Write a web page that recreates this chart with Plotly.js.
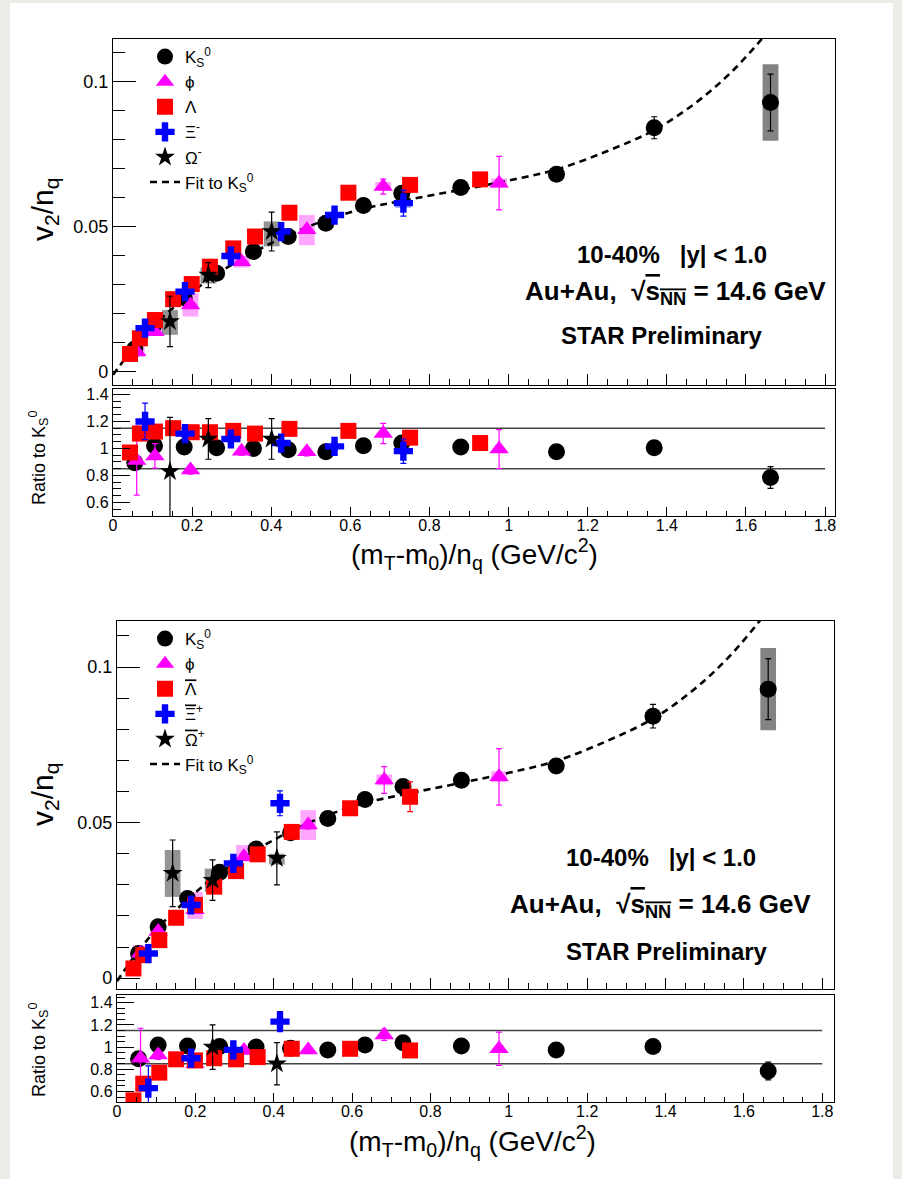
<!DOCTYPE html>
<html>
<head>
<meta charset="utf-8">
<script src="https://cdn.plot.ly/plotly-3.0.1.min.js"></script>
<style>html,body{margin:0;padding:0;background:#eeece6;}#chart{width:902px;height:1179px;}</style>
</head>
<body>
<div id="chart"></div>
<script>
// ---------------- DATA ----------------
// Fit to K0s
const fitX = [0.0, 0.055, 0.105, 0.18, 0.262, 0.355, 0.443, 0.538, 0.633, 0.730, 0.879, 1.0, 1.121, 1.25, 1.368, 1.47, 1.56, 1.64, 1.70];
const fitV = [-0.001, 0.0088, 0.0162, 0.0253, 0.0337, 0.0412, 0.0472, 0.0524, 0.0563, 0.0590, 0.0628, 0.0660, 0.0698, 0.0762, 0.0834, 0.0925, 0.1030, 0.1148, 0.1250];
const refX = [0, 1.8];
const refLevels = [0.85, 1.15];

// K0s (same in both panels)
const k0X = [0.055, 0.105, 0.18, 0.262, 0.355, 0.443, 0.538, 0.633, 0.730, 0.879, 1.121, 1.368, 1.662];
const k0V = [0.0079, 0.0165, 0.0256, 0.0340, 0.0415, 0.0467, 0.0513, 0.0574, 0.0616, 0.0636, 0.0682, 0.0842, 0.0929];
const k0Err = [0.0004, 0.0004, 0.0004, 0.0004, 0.0005, 0.0005, 0.0006, 0.0007, 0.0009, 0.0012, 0.0016, 0.0038, 0.0098];
const k0Ratio = [0.895, 1.02, 1.01, 1.005, 1.0, 0.99, 0.975, 1.02, 1.04, 1.01, 0.975, 1.005, 0.785];
const k0RatioErr = [0.01, 0.01, 0.01, 0.01, 0.01, 0.01, 0.01, 0.015, 0.02, 0.02, 0.02, 0.04, 0.08];
const k0SysX = [1.662];
const k0SysLo = [0.0797];
const k0SysHi = [0.1061];

// ---- Panel A: phi, Lambda, Xi-, Omega- ----
const phiAX = [0.06, 0.106, 0.196, 0.325, 0.490, 0.683, 0.976];
const phiAV = [0.0070, 0.0139, 0.0231, 0.0380, 0.0490, 0.0639, 0.0651];
const phiAErr = [0.0008, 0.0008, 0.0010, 0.0010, 0.0012, 0.0026, 0.0092];
const phiARatio = [0.91, 0.945, 0.84, 0.98, 0.975, 1.11, 0.995];
const phiARatioErr = [0.255, 0.09, 0.03, 0.03, 0.03, 0.075, 0.145];
const phiASysLo = [0.0052, 0.0125, 0.0191, 0.0360, 0.0437, 0.0625, 0.0635];
const phiASysHi = [0.0090, 0.0158, 0.0271, 0.0400, 0.0541, 0.0655, 0.0667];

const lamAX = [0.043, 0.068, 0.106, 0.152, 0.199, 0.245, 0.304, 0.359, 0.446, 0.595, 0.751, 0.928];
const lamAV = [0.0062, 0.0116, 0.0179, 0.0251, 0.0303, 0.0363, 0.0426, 0.0467, 0.0549, 0.0618, 0.0645, 0.0664];
const lamAErr = [0.0003, 0.0003, 0.0003, 0.0003, 0.0004, 0.0004, 0.0005, 0.0005, 0.0006, 0.0008, 0.0012, 0.0016];
const lamARatio = [0.97, 1.11, 1.125, 1.15, 1.12, 1.12, 1.13, 1.11, 1.145, 1.13, 1.08, 1.04];
const lamARatioErr = [0.02, 0.02, 0.02, 0.02, 0.02, 0.02, 0.02, 0.02, 0.02, 0.02, 0.03, 0.03];

const xiAX = [0.081, 0.182, 0.298, 0.425, 0.560, 0.734];
const xiAV = [0.0151, 0.0277, 0.0400, 0.0484, 0.0541, 0.0582];
const xiAErr = [0.0008, 0.0008, 0.0010, 0.0012, 0.0015, 0.0045];
const xiARatio = [1.20, 1.11, 1.07, 1.04, 1.015, 0.98];
const xiARatioErr = [0.135, 0.05, 0.03, 0.03, 0.03, 0.09];
const xiASysX = [0.734];
const xiASysLo = [0.0565];
const xiASysHi = [0.0600];

const omAX = [0.144, 0.241, 0.401];
const omAV = [0.0174, 0.0334, 0.0484];
const omAErr = [0.0087, 0.0043, 0.0067];
const omARatio = [0.83, 1.07, 1.07];
const omARatioErr = [0.40, 0.15, 0.15];
const omASysLo = [0.0128, 0.0305, 0.0433];
const omASysHi = [0.0214, 0.0360, 0.0519];

// ---- Panel B: phi, anti-Lambda, anti-Xi+, anti-Omega+ ----
const phiBX = [0.06, 0.105, 0.199, 0.324, 0.488, 0.682, 0.975];
const phiBV = [0.0080, 0.0150, 0.0220, 0.0390, 0.0492, 0.0637, 0.0647];
const phiBErr = [0.0008, 0.0008, 0.0010, 0.0010, 0.0012, 0.0043, 0.0091];
const phiBRatio = [0.90, 0.93, 0.85, 0.97, 0.975, 1.11, 0.985];
const phiBRatioErr = [0.27, 0.04, 0.03, 0.03, 0.03, 0.05, 0.15];
const phiBSysLo = [0.0064, 0.0135, 0.0190, 0.0375, 0.0444, 0.0620, 0.0630];
const phiBSysHi = [0.0106, 0.0165, 0.0277, 0.0428, 0.0540, 0.0655, 0.0665];

const lamBX = [0.042, 0.067, 0.108, 0.151, 0.199, 0.248, 0.304, 0.359, 0.446, 0.595, 0.748];
const lamBV = [0.0031, 0.0074, 0.0122, 0.0194, 0.0235, 0.0294, 0.0344, 0.0398, 0.0470, 0.0546, 0.0583];
const lamBErr = [0.0003, 0.0003, 0.0003, 0.0003, 0.0004, 0.0004, 0.0005, 0.0005, 0.0006, 0.0009, 0.0048];
const lamBRatio = [0.52, 0.67, 0.77, 0.89, 0.88, 0.90, 0.89, 0.91, 0.985, 0.985, 0.97];
const lamBRatioErr = [0.03, 0.06, 0.02, 0.02, 0.02, 0.02, 0.02, 0.02, 0.02, 0.02, 0.06];

const xiBX = [0.080, 0.189, 0.297, 0.416];
const xiBV = [0.0079, 0.0235, 0.0369, 0.0562];
const xiBErr = [0.0010, 0.0010, 0.0012, 0.0040];
const xiBRatio = [0.63, 0.90, 0.975, 1.23];
const xiBRatioErr = [0.20, 0.04, 0.04, 0.09];

const omBX = [0.142, 0.244, 0.408];
const omBV = [0.0337, 0.0315, 0.0385];
const omBErr = [0.0107, 0.0065, 0.0085];
const omBRatio = [1.60, 1.00, 0.85];
const omBRatioErr = [0.0, 0.20, 0.19];
const omBSysLo = [0.0261, 0.0277, 0.0365];
const omBSysHi = [0.0412, 0.0352, 0.0400];

// ---------------- STYLE / LAYOUT ----------------
const W = 902, H = 1179;
const FONT = 'Liberation Sans, Arial, Helvetica, sans-serif';
const fx = p => p / W;
const fy = p => 1 - p / H;

const ST = {
  k0:  {symbol:'circle', size:17, color:'#000000', sys:'rgba(90,90,90,0.75)'},
  phi: {symbol:'triangle-up', size:17, color:'#ff00ff', sys:'rgba(255,0,255,0.35)'},
  lam: {symbol:'square', size:16, color:'#ff0000', sys:'rgba(255,0,0,0.35)'},
  xi:  {symbol:'cross', size:16, color:'#0000ff', sys:'rgba(0,0,255,0.3)'},
  om:  {symbol:'star', size:15, color:'#000000', sys:'rgba(60,60,60,0.55)'}
};

const traces = [];
function sys(xs, lo, hi, st, xa, ya) {
  traces.push({type:'bar', x: xs, y: hi.map((h,i)=>h-lo[i]), base: lo, width: 0.04,
    marker:{color: st.sys, line:{width:0}}, xaxis: xa, yaxis: ya, showlegend:false, hoverinfo:'skip'});
}
function pts(xs, ys, err, st, xa, ya, name, leg, rank) {
  traces.push({type:'scatter', mode:'markers', x: xs, y: ys, name: name || '',
    marker:{symbol: st.symbol, size: st.size, color: st.color, line:{width:0}},
    error_y:{type:'data', array: err, color: st.color, thickness:1.2, width:3},
    xaxis: xa, yaxis: ya, showlegend: !!leg, legend: leg || 'legend', legendrank: rank || 1, hoverinfo:'skip'});
}
function fit(xa, ya, leg) {
  traces.push({type:'scatter', mode:'lines', x: fitX, y: fitV, name:'Fit to K<sub>S</sub><sup>0</sup>',
    line:{color:'#000', width:2.6, dash:'7px,5px', shape:'spline', smoothing:1},
    xaxis: xa, yaxis: ya, showlegend:true, legend: leg, legendrank: 6, hoverinfo:'skip'});
}
function refs(xa, ya) {
  refLevels.forEach(l => traces.push({type:'scatter', mode:'lines', x: refX, y: refX.map(()=>l),
    line:{color:'#444', width:1.6}, xaxis: xa, yaxis: ya, showlegend:false, hoverinfo:'skip'}));
}
const OV = s => '<span style="text-decoration:overline">' + s + '</span>';

// Panel A main
fit('x', 'y', 'legend');
sys(k0SysX, k0SysLo, k0SysHi, ST.k0, 'x', 'y');
pts(k0X, k0V, k0Err, ST.k0, 'x', 'y', 'K<sub>S</sub><sup>0</sup>', 'legend', 1);
sys(phiAX, phiASysLo, phiASysHi, ST.phi, 'x', 'y');
pts(phiAX, phiAV, phiAErr, ST.phi, 'x', 'y', 'ϕ', 'legend', 2);
pts(lamAX, lamAV, lamAErr, ST.lam, 'x', 'y', 'Λ', 'legend', 3);
sys(xiASysX, xiASysLo, xiASysHi, ST.xi, 'x', 'y');
pts(xiAX, xiAV, xiAErr, ST.xi, 'x', 'y', 'Ξ<sup>-</sup>', 'legend', 4);
sys(omAX, omASysLo, omASysHi, ST.om, 'x', 'y');
pts(omAX, omAV, omAErr, ST.om, 'x', 'y', 'Ω<sup>-</sup>', 'legend', 5);
// Panel A ratio
refs('x2', 'y2');
pts(k0X, k0Ratio, k0RatioErr, ST.k0, 'x2', 'y2');
pts(phiAX, phiARatio, phiARatioErr, ST.phi, 'x2', 'y2');
pts(lamAX, lamARatio, lamARatioErr, ST.lam, 'x2', 'y2');
pts(xiAX, xiARatio, xiARatioErr, ST.xi, 'x2', 'y2');
pts(omAX, omARatio, omARatioErr, ST.om, 'x2', 'y2');

// Panel B main
fit('x3', 'y3', 'legend2');
sys(k0SysX, k0SysLo, k0SysHi, ST.k0, 'x3', 'y3');
pts(k0X, k0V, k0Err, ST.k0, 'x3', 'y3', 'K<sub>S</sub><sup>0</sup>', 'legend2', 1);
sys(phiBX, phiBSysLo, phiBSysHi, ST.phi, 'x3', 'y3');
pts(phiBX, phiBV, phiBErr, ST.phi, 'x3', 'y3', 'ϕ', 'legend2', 2);
pts(lamBX, lamBV, lamBErr, ST.lam, 'x3', 'y3', OV('Λ'), 'legend2', 3);
pts(xiBX, xiBV, xiBErr, ST.xi, 'x3', 'y3', OV('Ξ') + '<sup>+</sup>', 'legend2', 4);
sys(omBX, omBSysLo, omBSysHi, ST.om, 'x3', 'y3');
pts(omBX, omBV, omBErr, ST.om, 'x3', 'y3', OV('Ω') + '<sup>+</sup>', 'legend2', 5);
// Panel B ratio
refs('x4', 'y4');
pts(k0X, k0Ratio, k0RatioErr, ST.k0, 'x4', 'y4');
pts(phiBX, phiBRatio, phiBRatioErr, ST.phi, 'x4', 'y4');
pts(lamBX, lamBRatio, lamBRatioErr, ST.lam, 'x4', 'y4');
pts(xiBX, xiBRatio, xiBRatioErr, ST.xi, 'x4', 'y4');
pts(omBX, omBRatio, omBRatioErr, ST.om, 'x4', 'y4');

function xAxis(dom, range, anchor, labels) {
  return {domain:[fx(dom[0]), fx(dom[1])], range: range, anchor: anchor,
    showline:true, mirror:true, linecolor:'#000', linewidth:1.2, showgrid:false, zeroline:false,
    ticks:'inside', ticklen: labels ? 9 : 11, tickwidth:1, tickcolor:'#000', tick0:0, dtick:0.2,
    minor:{dtick:0.05, ticklen: labels ? 5 : 6, ticks:'inside', tickcolor:'#000', tickwidth:1, showgrid:false},
    showticklabels: labels, ticklabelstandoff: -5, tickfont:{family:FONT, size:16, color:'#000'}};
}
function yMain(dom, range, anchor) {
  return {domain:[fy(dom[1]), fy(dom[0])], range: range, anchor: anchor,
    showline:true, mirror:true, linecolor:'#000', linewidth:1.2, showgrid:false, zeroline:false,
    ticks:'inside', ticklen:23, tickwidth:1, tickcolor:'#000', tick0:0, dtick:0.05,
    minor:{dtick:0.01, ticklen:12, ticks:'inside', tickcolor:'#000', tickwidth:1, showgrid:false},
    tickfont:{family:FONT, size:18, color:'#000'}};
}
function yRatio(dom, range, anchor) {
  return {domain:[fy(dom[1]), fy(dom[0])], range: range, anchor: anchor,
    showline:true, mirror:true, linecolor:'#000', linewidth:1.2, showgrid:false, zeroline:false,
    ticks:'inside', ticklen:17, tickwidth:1, tickcolor:'#000', tick0:0, dtick:0.2,
    minor:{dtick:0.05, ticklen:8, ticks:'inside', tickcolor:'#000', tickwidth:1, showgrid:false},
    tickfont:{family:FONT, size:16, color:'#000'}};
}

const ann = [];
function txt(t, x, y, size, bold, rot) {
  ann.push({text: bold ? '<b>' + t + '</b>' : t, x: fx(x), y: fy(y), xref:'paper', yref:'paper',
    xanchor:'center', yanchor:'middle', showarrow:false, textangle: rot || 0,
    font:{family:FONT, size:size, color:'#000'}});
}
// Panel A texts
txt('10-40%&nbsp;&nbsp;&nbsp;|y| &lt; 1.0', 672, 254, 24, true);
txt('Au+Au,&nbsp; √' + OV('s<sub>NN</sub>') + ' = 14.6 GeV', 675, 292, 26, true);
txt('STAR Preliminary', 662, 335, 24, true);
txt('v<sub>2</sub>/n<sub>q</sub>', 44, 210, 30, false, -90);
txt('Ratio to K<sub>S</sub><sup>0</sup>', 38, 458, 18, false, -90);
txt('(m<sub>T</sub>-m<sub>0</sub>)/n<sub>q</sub> (GeV/c<sup>2</sup>)', 474, 554, 28, false);
// Panel B texts
txt('10-40%&nbsp;&nbsp;&nbsp;|y| &lt; 1.0', 661, 857, 24, true);
txt('Au+Au,&nbsp; √' + OV('s<sub>NN</sub>') + ' = 14.6 GeV', 660, 905, 26, true);
txt('STAR Preliminary', 667, 951, 24, true);
txt('v<sub>2</sub>/n<sub>q</sub>', 44, 795, 30, false, -90);
txt('Ratio to K<sub>S</sub><sup>0</sup>', 38, 1050, 18, false, -90);
txt('(m<sub>T</sub>-m<sub>0</sub>)/n<sub>q</sub> (GeV/c<sup>2</sup>)', 472, 1141, 28, false);

const legendStyle = (x, y) => ({x: fx(x), y: fy(y), xanchor:'left', yanchor:'top', bgcolor:'rgba(0,0,0,0)',
  borderwidth:0, font:{family:FONT, size:17, color:'#000'}, itemsizing:'trace', traceorder:'normal'});

const layout = {
  width: W, height: H, margin:{l:0, r:0, t:0, b:0},
  paper_bgcolor:'#eeece6', plot_bgcolor:'#ffffff',
  barmode:'overlay', showlegend:true,
  font:{family:FONT, color:'#000'},
  xaxis: xAxis([113, 835], [0, 1.825], 'y', false),
  yaxis: yMain([39, 385], [-0.0045, 0.1148], 'x'),
  xaxis2: xAxis([113, 835], [0, 1.825], 'y2', true),
  yaxis2: yRatio([389, 516], [0.50, 1.44], 'x2'),
  xaxis3: xAxis([117, 834], [0, 1.83], 'y3', false),
  yaxis3: yMain([621, 989], [-0.0035, 0.1148], 'x3'),
  xaxis4: xAxis([117, 834], [0, 1.83], 'y4', true),
  yaxis4: yRatio([995, 1102], [0.505, 1.47], 'x4'),
  legend: legendStyle(145, 39),
  legend2: legendStyle(145, 621),
  annotations: ann,
  shapes: [{type:'rect', xref:'paper', yref:'paper', x0: fx(10), x1: fx(893), y0: 0, y1: fy(3),
    fillcolor:'#ffffff', line:{width:0}, layer:'below'}]
};

Plotly.newPlot('chart', traces, layout, {staticPlot:true, displayModeBar:false});
</script>
</body>
</html>
